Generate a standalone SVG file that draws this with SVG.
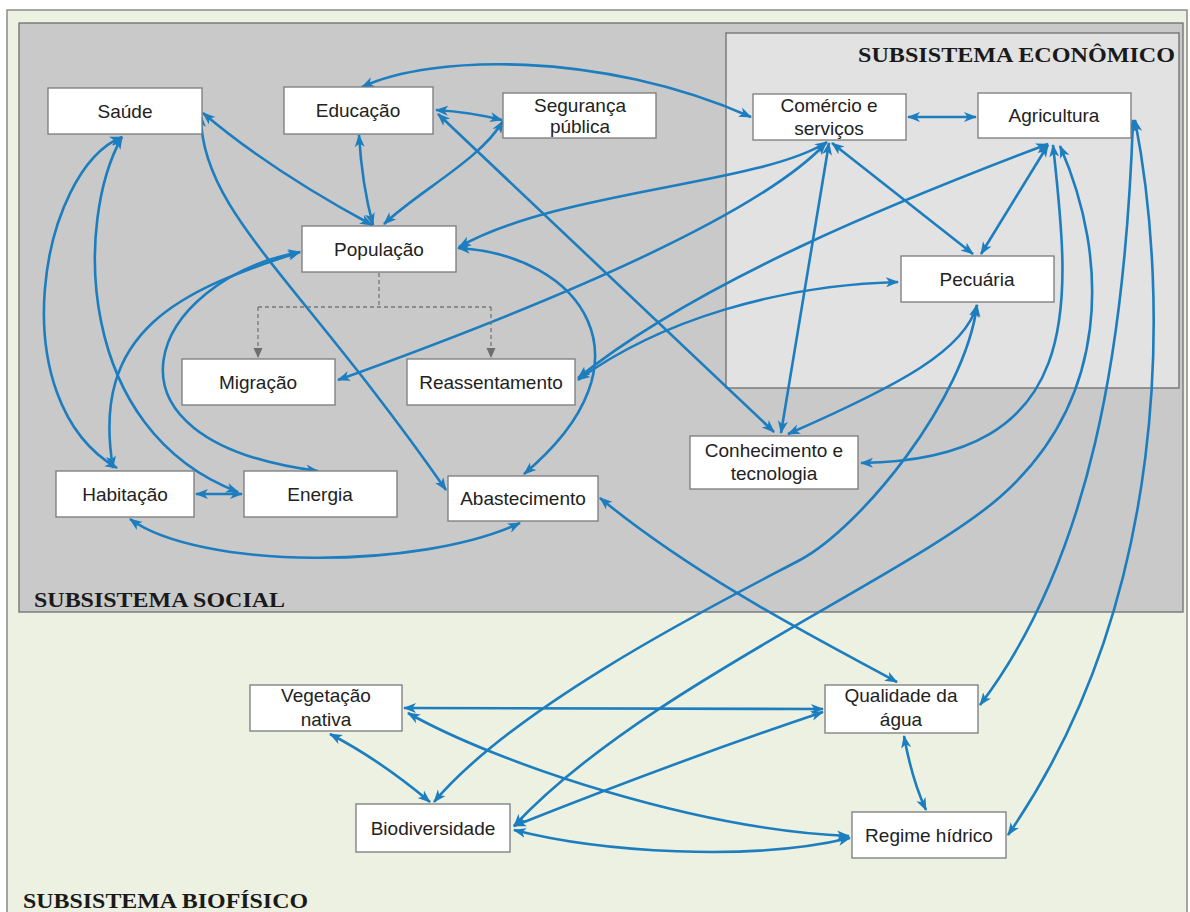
<svg xmlns="http://www.w3.org/2000/svg" width="1190" height="912" viewBox="0 0 1190 912">
<defs>
<marker id="ah" markerUnits="userSpaceOnUse" markerWidth="14" markerHeight="11" refX="12" refY="5.5" orient="auto-start-reverse"><path d="M0,0.5 L13,5.5 L0,10.5 L3.5,5.5 z" fill="#1c7dbf"/></marker>
<marker id="gh" markerUnits="userSpaceOnUse" markerWidth="10" markerHeight="10" refX="9" refY="5" orient="auto"><path d="M0,0.5 L10,5 L0,9.5 z" fill="#6e6e6e"/></marker>
<style>
.nb{fill:#ffffff;stroke:#7a7a7a;stroke-width:1.3}
.nt{font-family:"Liberation Sans",Arial,sans-serif;font-size:19px;fill:#222;text-anchor:middle}
.ttl{font-family:"Liberation Serif","Times New Roman",serif;font-size:22px;font-weight:bold;fill:#1a1a1a}
.c{fill:none;stroke:#1c7dbf;stroke-width:2.6;marker-start:url(#ah);marker-end:url(#ah)}
.d{fill:none;stroke:#777;stroke-width:1.3;stroke-dasharray:4 3}
</style>
</defs>
<rect x="0" y="0" width="1190" height="912" fill="#ffffff"/>
<rect id="bio-box" x="7" y="10" width="1180" height="920" fill="#ecf1e2" stroke="#8a8a8a" stroke-width="1.5"/>
<rect id="social-box" x="19" y="23" width="1164" height="589" fill="#c9c9c9" stroke="#6e6e6e" stroke-width="1.3"/>
<rect id="eco-box" x="726" y="33" width="453" height="355" fill="#e2e2e2" stroke="#6e6e6e" stroke-width="1.3"/>
<text class="ttl" x="1175" y="62" text-anchor="end" textLength="317" lengthAdjust="spacingAndGlyphs">SUBSISTEMA ECONÔMICO</text>
<text class="ttl" x="34" y="607" textLength="251" lengthAdjust="spacingAndGlyphs">SUBSISTEMA SOCIAL</text>
<text class="ttl" x="23" y="908" textLength="285" lengthAdjust="spacingAndGlyphs">SUBSISTEMA BIOFÍSICO</text>

<g id="connectors">
<path class="c" d="M362 87 C430 55 600 50 751 117"/>
<path class="c" d="M436 110 Q470 112 502 120"/>
<path class="c" d="M359 135 Q362 185 373 225"/>
<path class="c" d="M503 121 C480 160 420 190 384 224"/>
<path class="c" d="M203 113 Q270 170 372 225"/>
<path class="c" d="M201 115 C200 210 300 280 446 490"/>
<path class="c" d="M122 137 C40 170 0 400 117 468"/>
<path class="c" d="M122 137 C75 220 75 430 238 492"/>
<path class="c" d="M300 252 C180 290 90 330 113 468"/>
<path class="c" d="M300 252 C150 280 80 440 318 471"/>
<path class="c" d="M196 494 L242 494"/>
<path class="c" d="M130 519 C200 570 420 570 520 523"/>
<path class="c" d="M458 248 C580 255 660 360 524 474"/>
<path class="c" d="M827 142 C760 185 560 190 459 247"/>
<path class="c" d="M826 143 Q740 235 338 380"/>
<path class="c" d="M908 117 L976 117"/>
<path class="c" d="M829 143 L781 433"/>
<path class="c" d="M832 143 L973 254"/>
<path class="c" d="M1048 145 L981 254"/>
<path class="c" d="M1048 144 C900 200 700 280 578 378"/>
<path class="c" d="M578 380 C660 320 780 285 898 282"/>
<path class="c" d="M438 114 L774 432"/>
<path class="c" d="M977 305 C965 350 900 385 788 434"/>
<path class="c" d="M1053 145 C1070 300 1090 460 861 463"/>
<path class="c" d="M977 305 C965 400 860 528 800 560 C740 592 520 700 434 802"/>
<path class="c" d="M1060 146 C1110 260 1110 400 1000 497 C910 576 640 690 514 826"/>
<path class="c" d="M1133 120 C1125 350 1090 560 980 705"/>
<path class="c" d="M1135 120 C1170 300 1170 600 1008 835"/>
<path class="c" d="M600 498 C700 580 820 640 897 682"/>
<path class="c" d="M404 708 L823 709"/>
<path class="c" d="M408 713 C500 765 700 830 849 836"/>
<path class="c" d="M514 826 Q680 760 823 712"/>
<path class="c" d="M514 830 C600 852 750 862 850 838"/>
<path class="c" d="M330 734 Q380 760 430 802"/>
<path class="c" d="M904 736 Q912 780 926 810"/>
<path class="d" d="M379 273 V307 M258 307 H491"/>
<path class="d" d="M258 307 V357" marker-end="url(#gh)"/>
<path class="d" d="M491 307 V357" marker-end="url(#gh)"/>
</g>

<g id="n-saude"><rect class="nb" x="48" y="88" width="154" height="46"/><text class="nt" x="125" y="118">Saúde</text></g>
<g id="n-educacao"><rect class="nb" x="284" y="87" width="149" height="47"/><text class="nt" x="358" y="117">Educação</text></g>
<g id="n-seguranca"><rect class="nb" x="503" y="93" width="153" height="45"/><text class="nt" x="580" y="112">Segurança</text><text class="nt" x="580" y="133">pública</text></g>
<g id="n-populacao"><rect class="nb" x="302" y="226" width="154" height="46"/><text class="nt" x="379" y="256">População</text></g>
<g id="n-comercio"><rect class="nb" x="753" y="94" width="153" height="46"/><text class="nt" x="829" y="112">Comércio e</text><text class="nt" x="829" y="135">serviços</text></g>
<g id="n-agricultura"><rect class="nb" x="978" y="93" width="153" height="45"/><text class="nt" x="1054" y="122">Agricultura</text></g>
<g id="n-pecuaria"><rect class="nb" x="901" y="256" width="153" height="46"/><text class="nt" x="977" y="286">Pecuária</text></g>
<g id="n-migracao"><rect class="nb" x="182" y="359" width="153" height="46"/><text class="nt" x="258" y="389">Migração</text></g>
<g id="n-reassentamento"><rect class="nb" x="407" y="359" width="168" height="46"/><text class="nt" x="491" y="389">Reassentamento</text></g>
<g id="n-habitacao"><rect class="nb" x="56" y="471" width="138" height="46"/><text class="nt" x="125" y="501">Habitação</text></g>
<g id="n-energia"><rect class="nb" x="244" y="471" width="153" height="46"/><text class="nt" x="320" y="501">Energia</text></g>
<g id="n-abastecimento"><rect class="nb" x="448" y="476" width="150" height="45"/><text class="nt" x="523" y="505">Abastecimento</text></g>
<g id="n-conhecimento"><rect class="nb" x="690" y="436" width="168" height="53"/><text class="nt" x="774" y="457">Conhecimento e</text><text class="nt" x="774" y="480">tecnologia</text></g>
<g id="n-vegetacao"><rect class="nb" x="250" y="685" width="152" height="46"/><text class="nt" x="326" y="702">Vegetação</text><text class="nt" x="326" y="726">nativa</text></g>
<g id="n-biodiversidade"><rect class="nb" x="356" y="804" width="154" height="48"/><text class="nt" x="433" y="835">Biodiversidade</text></g>
<g id="n-qualidade"><rect class="nb" x="825" y="685" width="153" height="48"/><text class="nt" x="901" y="702">Qualidade da</text><text class="nt" x="901" y="726">água</text></g>
<g id="n-regime"><rect class="nb" x="852" y="812" width="154" height="46"/><text class="nt" x="929" y="842">Regime hídrico</text></g>
</svg>
